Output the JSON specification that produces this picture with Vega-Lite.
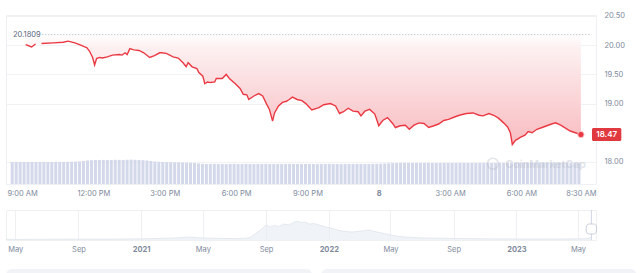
{
"$schema":"https://vega.github.io/schema/vega-lite/v6.json",
"background":"white",
"padding":{"left":4,"top":11,"right":0,"bottom":0},
"spacing":12,
"config":{"font":"Inter","view":{"stroke":"#eef0f3"}},
"datasets":{
"price":[
{"t":"2023-06-07T09:09","p":20.01,"s":1},{"t":"2023-06-07T09:24","p":19.97,"s":1},{"t":"2023-06-07T09:34","p":20.02,"s":1},
{"t":"2023-06-07T09:49","p":20.03,"s":2},{"t":"2023-06-07T10:19","p":20.04,"s":2},{"t":"2023-06-07T10:44","p":20.05,"s":2},{"t":"2023-06-07T10:56","p":20.07,"s":2},{"t":"2023-06-07T11:13","p":20.04,"s":2},{"t":"2023-06-07T11:28","p":20.0,"s":2},{"t":"2023-06-07T11:38","p":19.97,"s":2},{"t":"2023-06-07T11:43","p":19.96,"s":2},{"t":"2023-06-07T11:50","p":19.9,"s":2},{"t":"2023-06-07T11:58","p":19.79,"s":2},{"t":"2023-06-07T12:03","p":19.66,"s":2},{"t":"2023-06-07T12:08","p":19.77,"s":2},{"t":"2023-06-07T12:15","p":19.79,"s":2},{"t":"2023-06-07T12:23","p":19.78,"s":2},{"t":"2023-06-07T12:35","p":19.8,"s":2},{"t":"2023-06-07T12:48","p":19.83,"s":2},{"t":"2023-06-07T13:05","p":19.84,"s":2},{"t":"2023-06-07T13:12","p":19.83,"s":2},{"t":"2023-06-07T13:20","p":19.87,"s":2},{"t":"2023-06-07T13:25","p":19.84,"s":2},{"t":"2023-06-07T13:32","p":19.94,"s":2},{"t":"2023-06-07T13:42","p":19.92,"s":2},{"t":"2023-06-07T13:55","p":19.91,"s":2},{"t":"2023-06-07T14:07","p":19.87,"s":2},{"t":"2023-06-07T14:22","p":19.79,"s":2},{"t":"2023-06-07T14:34","p":19.82,"s":2},{"t":"2023-06-07T14:47","p":19.87,"s":2},{"t":"2023-06-07T14:52","p":19.87,"s":2},{"t":"2023-06-07T15:04","p":19.86,"s":2},{"t":"2023-06-07T15:21","p":19.8,"s":2},{"t":"2023-06-07T15:34","p":19.78,"s":2},{"t":"2023-06-07T15:46","p":19.7,"s":2},{"t":"2023-06-07T15:54","p":19.63,"s":2},{"t":"2023-06-07T15:59","p":19.7,"s":2},{"t":"2023-06-07T16:09","p":19.63,"s":2},{"t":"2023-06-07T16:21","p":19.6,"s":2},{"t":"2023-06-07T16:26","p":19.53,"s":2},{"t":"2023-06-07T16:36","p":19.47,"s":2},{"t":"2023-06-07T16:41","p":19.34,"s":2},{"t":"2023-06-07T16:48","p":19.37,"s":2},{"t":"2023-06-07T16:56","p":19.36,"s":2},{"t":"2023-06-07T17:06","p":19.37,"s":2},{"t":"2023-06-07T17:10","p":19.43,"s":2},{"t":"2023-06-07T17:25","p":19.43,"s":2},{"t":"2023-06-07T17:35","p":19.5,"s":2},{"t":"2023-06-07T17:43","p":19.43,"s":2},{"t":"2023-06-07T17:58","p":19.34,"s":2},{"t":"2023-06-07T18:10","p":19.26,"s":2},{"t":"2023-06-07T18:18","p":19.16,"s":2},{"t":"2023-06-07T18:27","p":19.15,"s":2},{"t":"2023-06-07T18:32","p":19.07,"s":2},{"t":"2023-06-07T18:45","p":19.13,"s":2},{"t":"2023-06-07T18:57","p":19.17,"s":2},{"t":"2023-06-07T19:07","p":19.13,"s":2},{"t":"2023-06-07T19:17","p":18.99,"s":2},{"t":"2023-06-07T19:24","p":18.9,"s":2},{"t":"2023-06-07T19:32","p":18.7,"s":2},{"t":"2023-06-07T19:37","p":18.84,"s":2},{"t":"2023-06-07T19:47","p":18.96,"s":2},{"t":"2023-06-07T19:57","p":19.02,"s":2},{"t":"2023-06-07T20:07","p":19.04,"s":2},{"t":"2023-06-07T20:14","p":19.07,"s":2},{"t":"2023-06-07T20:22","p":19.11,"s":2},{"t":"2023-06-07T20:34","p":19.07,"s":2},{"t":"2023-06-07T20:46","p":19.05,"s":2},{"t":"2023-06-07T20:56","p":19.0,"s":2},{"t":"2023-06-07T21:11","p":18.89,"s":2},{"t":"2023-06-07T21:29","p":18.93,"s":2},{"t":"2023-06-07T21:41","p":18.98,"s":2},{"t":"2023-06-07T21:58","p":19.0,"s":2},{"t":"2023-06-07T22:11","p":18.96,"s":2},{"t":"2023-06-07T22:21","p":18.83,"s":2},{"t":"2023-06-07T22:31","p":18.86,"s":2},{"t":"2023-06-07T22:43","p":18.92,"s":2},{"t":"2023-06-07T22:55","p":18.87,"s":2},{"t":"2023-06-07T23:08","p":18.86,"s":2},{"t":"2023-06-07T23:15","p":18.79,"s":2},{"t":"2023-06-07T23:25","p":18.87,"s":2},{"t":"2023-06-07T23:37","p":18.9,"s":2},{"t":"2023-06-07T23:50","p":18.82,"s":2},
{"t":"2023-06-08T00:00","p":18.62,"s":2},{"t":"2023-06-08T00:10","p":18.71,"s":2},{"t":"2023-06-08T00:22","p":18.76,"s":2},{"t":"2023-06-08T00:35","p":18.66,"s":2},{"t":"2023-06-08T00:42","p":18.59,"s":2},{"t":"2023-06-08T00:54","p":18.62,"s":2},{"t":"2023-06-08T01:07","p":18.63,"s":2},{"t":"2023-06-08T01:17","p":18.56,"s":2},{"t":"2023-06-08T01:29","p":18.63,"s":2},{"t":"2023-06-08T01:42","p":18.67,"s":2},{"t":"2023-06-08T01:54","p":18.66,"s":2},{"t":"2023-06-08T02:06","p":18.59,"s":2},{"t":"2023-06-08T02:19","p":18.62,"s":2},{"t":"2023-06-08T02:31","p":18.65,"s":2},{"t":"2023-06-08T02:44","p":18.71,"s":2},{"t":"2023-06-08T02:56","p":18.73,"s":2},{"t":"2023-06-08T03:11","p":18.77,"s":2},{"t":"2023-06-08T03:23","p":18.8,"s":2},{"t":"2023-06-08T03:41","p":18.83,"s":2},{"t":"2023-06-08T03:58","p":18.84,"s":2},{"t":"2023-06-08T04:13","p":18.8,"s":2},{"t":"2023-06-08T04:23","p":18.79,"s":2},{"t":"2023-06-08T04:38","p":18.83,"s":2},{"t":"2023-06-08T04:50","p":18.8,"s":2},{"t":"2023-06-08T05:02","p":18.75,"s":2},{"t":"2023-06-08T05:15","p":18.67,"s":2},{"t":"2023-06-08T05:25","p":18.6,"s":2},{"t":"2023-06-08T05:32","p":18.5,"s":2},{"t":"2023-06-08T05:37","p":18.3,"s":2},{"t":"2023-06-08T05:45","p":18.37,"s":2},{"t":"2023-06-08T05:57","p":18.42,"s":2},{"t":"2023-06-08T06:09","p":18.46,"s":2},{"t":"2023-06-08T06:17","p":18.52,"s":2},{"t":"2023-06-08T06:27","p":18.5,"s":2},{"t":"2023-06-08T06:39","p":18.56,"s":2},{"t":"2023-06-08T06:52","p":18.59,"s":2},{"t":"2023-06-08T07:04","p":18.62,"s":2},{"t":"2023-06-08T07:16","p":18.65,"s":2},{"t":"2023-06-08T07:26","p":18.67,"s":2},{"t":"2023-06-08T07:39","p":18.63,"s":2},{"t":"2023-06-08T07:51","p":18.58,"s":2},{"t":"2023-06-08T08:03","p":18.53,"s":2},{"t":"2023-06-08T08:16","p":18.5,"s":2},{"t":"2023-06-08T08:30","p":18.47,"s":2}
],
"vol":[
{"t":"2023-06-07T08:35","v":2.2},{"t":"2023-06-07T08:45","v":2.21},{"t":"2023-06-07T08:55","v":2.2},{"t":"2023-06-07T09:05","v":2.19},{"t":"2023-06-07T09:15","v":2.2},{"t":"2023-06-07T09:25","v":2.21},{"t":"2023-06-07T09:35","v":2.2},{"t":"2023-06-07T09:45","v":2.2},{"t":"2023-06-07T09:55","v":2.21},{"t":"2023-06-07T10:05","v":2.2},{"t":"2023-06-07T10:15","v":2.2},{"t":"2023-06-07T10:25","v":2.22},{"t":"2023-06-07T10:35","v":2.21},{"t":"2023-06-07T10:45","v":2.2},{"t":"2023-06-07T10:55","v":2.22},{"t":"2023-06-07T11:05","v":2.23},{"t":"2023-06-07T11:15","v":2.24},{"t":"2023-06-07T11:25","v":2.26},{"t":"2023-06-07T11:35","v":2.3},{"t":"2023-06-07T11:45","v":2.35},{"t":"2023-06-07T11:55","v":2.38},{"t":"2023-06-07T12:05","v":2.4},{"t":"2023-06-07T12:15","v":2.4},{"t":"2023-06-07T12:25","v":2.41},{"t":"2023-06-07T12:35","v":2.4},{"t":"2023-06-07T12:45","v":2.4},{"t":"2023-06-07T12:55","v":2.42},{"t":"2023-06-07T13:05","v":2.41},{"t":"2023-06-07T13:15","v":2.4},{"t":"2023-06-07T13:25","v":2.42},{"t":"2023-06-07T13:35","v":2.43},{"t":"2023-06-07T13:45","v":2.42},{"t":"2023-06-07T13:55","v":2.4},{"t":"2023-06-07T14:05","v":2.38},{"t":"2023-06-07T14:15","v":2.35},{"t":"2023-06-07T14:25","v":2.3},{"t":"2023-06-07T14:35","v":2.25},{"t":"2023-06-07T14:45","v":2.22},{"t":"2023-06-07T14:55","v":2.2},{"t":"2023-06-07T15:05","v":2.18},{"t":"2023-06-07T15:15","v":2.17},{"t":"2023-06-07T15:25","v":2.16},{"t":"2023-06-07T15:35","v":2.15},{"t":"2023-06-07T15:45","v":2.15},{"t":"2023-06-07T15:55","v":2.14},{"t":"2023-06-07T16:05","v":2.12},{"t":"2023-06-07T16:15","v":2.1},{"t":"2023-06-07T16:25","v":2.05},{"t":"2023-06-07T16:35","v":2.02},{"t":"2023-06-07T16:45","v":2.0},{"t":"2023-06-07T16:55","v":2.0},{"t":"2023-06-07T17:05","v":2.01},{"t":"2023-06-07T17:15","v":2.0},{"t":"2023-06-07T17:25","v":2.0},{"t":"2023-06-07T17:35","v":1.99},{"t":"2023-06-07T17:45","v":2.0},{"t":"2023-06-07T17:55","v":2.01},{"t":"2023-06-07T18:05","v":2.0},{"t":"2023-06-07T18:15","v":2.0},{"t":"2023-06-07T18:25","v":2.01},{"t":"2023-06-07T18:35","v":2.0},{"t":"2023-06-07T18:45","v":1.99},{"t":"2023-06-07T18:55","v":2.0},{"t":"2023-06-07T19:05","v":2.0},{"t":"2023-06-07T19:15","v":2.01},{"t":"2023-06-07T19:25","v":2.0},{"t":"2023-06-07T19:35","v":2.0},{"t":"2023-06-07T19:45","v":1.99},{"t":"2023-06-07T19:55","v":2.0},{"t":"2023-06-07T20:05","v":2.0},{"t":"2023-06-07T20:15","v":2.01},{"t":"2023-06-07T20:25","v":2.0},{"t":"2023-06-07T20:35","v":2.0},{"t":"2023-06-07T20:45","v":1.99},{"t":"2023-06-07T20:55","v":2.0},{"t":"2023-06-07T21:05","v":2.0},{"t":"2023-06-07T21:15","v":2.0},{"t":"2023-06-07T21:25","v":1.99},{"t":"2023-06-07T21:35","v":2.0},{"t":"2023-06-07T21:45","v":2.0},{"t":"2023-06-07T21:55","v":2.01},{"t":"2023-06-07T22:05","v":2.0},{"t":"2023-06-07T22:15","v":2.0},{"t":"2023-06-07T22:25","v":1.99},{"t":"2023-06-07T22:35","v":2.0},{"t":"2023-06-07T22:45","v":2.0},{"t":"2023-06-07T22:55","v":2.0},{"t":"2023-06-07T23:05","v":2.01},{"t":"2023-06-07T23:15","v":2.0},{"t":"2023-06-07T23:25","v":2.0},{"t":"2023-06-07T23:35","v":2.0},{"t":"2023-06-07T23:45","v":2.01},{"t":"2023-06-07T23:55","v":2.02},
{"t":"2023-06-08T00:05","v":2.03},{"t":"2023-06-08T00:15","v":2.05},{"t":"2023-06-08T00:25","v":2.07},{"t":"2023-06-08T00:35","v":2.08},{"t":"2023-06-08T00:45","v":2.1},{"t":"2023-06-08T00:55","v":2.1},{"t":"2023-06-08T01:05","v":2.11},{"t":"2023-06-08T01:15","v":2.1},{"t":"2023-06-08T01:25","v":2.1},{"t":"2023-06-08T01:35","v":2.11},{"t":"2023-06-08T01:45","v":2.1},{"t":"2023-06-08T01:55","v":2.1},{"t":"2023-06-08T02:05","v":2.11},{"t":"2023-06-08T02:15","v":2.1},{"t":"2023-06-08T02:25","v":2.1},{"t":"2023-06-08T02:35","v":2.1},{"t":"2023-06-08T02:45","v":2.11},{"t":"2023-06-08T02:55","v":2.1},{"t":"2023-06-08T03:05","v":2.1},{"t":"2023-06-08T03:15","v":2.1},{"t":"2023-06-08T03:25","v":2.11},{"t":"2023-06-08T03:35","v":2.1},{"t":"2023-06-08T03:45","v":2.1},{"t":"2023-06-08T03:55","v":2.1},{"t":"2023-06-08T04:05","v":2.1},{"t":"2023-06-08T04:15","v":2.11},{"t":"2023-06-08T04:25","v":2.1},{"t":"2023-06-08T04:35","v":2.1},{"t":"2023-06-08T04:45","v":2.1},{"t":"2023-06-08T04:55","v":2.1},{"t":"2023-06-08T05:05","v":2.11},{"t":"2023-06-08T05:15","v":2.1},{"t":"2023-06-08T05:25","v":2.1},{"t":"2023-06-08T05:35","v":2.1},{"t":"2023-06-08T05:45","v":2.1},{"t":"2023-06-08T05:55","v":2.11},{"t":"2023-06-08T06:05","v":2.1},{"t":"2023-06-08T06:15","v":2.1},{"t":"2023-06-08T06:25","v":2.1},{"t":"2023-06-08T06:35","v":2.1},{"t":"2023-06-08T06:45","v":2.11},{"t":"2023-06-08T06:55","v":2.1},{"t":"2023-06-08T07:05","v":2.1},{"t":"2023-06-08T07:15","v":2.1},{"t":"2023-06-08T07:25","v":2.1},{"t":"2023-06-08T07:35","v":2.1},{"t":"2023-06-08T07:45","v":2.11},{"t":"2023-06-08T07:55","v":2.1},{"t":"2023-06-08T08:05","v":2.1},{"t":"2023-06-08T08:15","v":2.1},{"t":"2023-06-08T08:25","v":2.1}
],
"nav":[
{"d":"2020-04-13","v":0.6},{"d":"2020-06-01","v":0.7},{"d":"2020-08-01","v":0.8},{"d":"2020-10-01","v":0.9},{"d":"2020-12-01","v":1.0},{"d":"2021-01-15","v":1.3},{"d":"2021-02-20","v":1.8},{"d":"2021-03-16","v":2.2},{"d":"2021-04-04","v":3.0},{"d":"2021-04-24","v":2.2},{"d":"2021-05-20","v":1.8},{"d":"2021-06-20","v":1.5},{"d":"2021-07-20","v":1.6},{"d":"2021-08-01","v":2.5},{"d":"2021-08-09","v":5.5},{"d":"2021-08-18","v":9},{"d":"2021-08-26","v":12},{"d":"2021-09-01","v":15},{"d":"2021-09-09","v":13},{"d":"2021-09-17","v":14.5},{"d":"2021-09-26","v":13.5},{"d":"2021-10-06","v":16},{"d":"2021-10-16","v":15},{"d":"2021-10-24","v":17.5},{"d":"2021-11-01","v":19},{"d":"2021-11-08","v":17.5},{"d":"2021-11-16","v":18},{"d":"2021-11-24","v":16},{"d":"2021-12-03","v":16.5},{"d":"2021-12-13","v":15},{"d":"2021-12-27","v":13},{"d":"2022-01-09","v":11.5},{"d":"2022-01-21","v":9.5},{"d":"2022-02-04","v":8.5},{"d":"2022-02-15","v":8},{"d":"2022-03-05","v":9},{"d":"2022-03-20","v":10},{"d":"2022-04-05","v":8},{"d":"2022-04-23","v":6},{"d":"2022-05-12","v":4},{"d":"2022-05-31","v":3},{"d":"2022-06-25","v":2.2},{"d":"2022-08-23","v":1.6},{"d":"2022-11-28","v":1.1},{"d":"2023-03-24","v":1.0},{"d":"2023-05-18","v":1.3},{"d":"2023-05-26","v":2.5}
],
"cards":[{"a":"2020-04-13","b":"2021-11-30","lo":-29,"hi":-50},{"a":"2021-12-17","b":"2023-08-23","lo":-29,"hi":-50}]
},
"vconcat":[
{
"width":590,"height":169,
"resolve":{"scale":{"y":"independent"}},
"layer":[
 {"data":{"name":"vol"},"mark":{"type":"bar","size":3,"color":"#d3d8ea"},
  "encoding":{"x":{"field":"t","type":"temporal","title":null,
     "scale":{"domain":[{"year":2023,"month":6,"date":7,"hours":8,"minutes":32},{"year":2023,"month":6,"date":8,"hours":8,"minutes":55,"seconds":30}]},
     "axis":{"values":[{"year":2023,"month":6,"date":7,"hours":9},{"year":2023,"month":6,"date":7,"hours":12},{"year":2023,"month":6,"date":7,"hours":15},{"year":2023,"month":6,"date":7,"hours":18},{"year":2023,"month":6,"date":7,"hours":21},{"year":2023,"month":6,"date":8,"hours":0},{"year":2023,"month":6,"date":8,"hours":3},{"year":2023,"month":6,"date":8,"hours":6},{"year":2023,"month":6,"date":8,"hours":8,"minutes":30}],
       "labelExpr":"hours(datum.value)==0 && minutes(datum.value)==0 ? timeFormat(datum.value,'%-d') : timeFormat(datum.value,'%-I:%M %p')",
       "labelFontWeight":{"condition":{"test":"hours(datum.value)==0","value":"bold"},"value":"normal"},
       "grid":false,"domain":false,"ticks":false,"tickSize":0,"labelPadding":5,"labelFontSize":7.5,"labelColor":"#808a9d","labelFlush":false,"labelOverlap":false}},
   "y":{"field":"v","type":"quantitative","scale":{"domain":[0,16.9]},"axis":null}}},
 {"data":{"name":"price"},
  "mark":{"type":"area","color":{"gradient":"linear","x1":0,"y1":0,"x2":0,"y2":1,"stops":[{"offset":0,"color":"#ffffff"},{"offset":0.12,"color":"#fdf0f1"},{"offset":1,"color":"#f8bcc0"}]}},
  "encoding":{
   "x":{"field":"t","type":"temporal"},
   "y":{"field":"p","type":"quantitative","title":null,"scale":{"domain":[17.623,20.517],"nice":false,"zero":false},
     "axis":{"orient":"right","values":[18,19,19.5,20,20.5],"format":".2f","domain":false,"ticks":false,"tickSize":0,"labelPadding":8,"labelFontSize":7.5,"labelColor":"#808a9d","grid":true,"gridColor":"#f1f2f5"}},
   "y2":{"datum":20.1809}}},
 {"data":{"name":"price"},"mark":{"type":"line","color":"#ea3943","strokeWidth":1.4},
  "encoding":{"x":{"field":"t","type":"temporal"},"y":{"field":"p","type":"quantitative","scale":{"domain":[17.623,20.517],"nice":false,"zero":false},"axis":null},"detail":{"field":"s","type":"nominal"}}},
 {"data":{"values":[{"p":20.1809}]},"mark":{"type":"rule","color":"#aab0bf","strokeDash":[1,2],"strokeWidth":1},
  "encoding":{"x":{"datum":{"year":2023,"month":6,"date":7,"hours":9,"minutes":51},"type":"temporal"},"x2":{"datum":{"year":2023,"month":6,"date":8,"hours":8,"minutes":55}},"y":{"field":"p","type":"quantitative","scale":{"domain":[17.623,20.517],"nice":false,"zero":false},"axis":null}}},
 {"data":{"values":[{"p":20.1809,"label":"20.1809"}]},"mark":{"type":"text","align":"left","baseline":"middle","fontSize":7.5,"color":"#58667e"},
  "encoding":{"x":{"datum":{"year":2023,"month":6,"date":7,"hours":8,"minutes":37},"type":"temporal"},"y":{"field":"p","type":"quantitative","scale":{"domain":[17.623,20.517],"nice":false,"zero":false},"axis":null},"text":{"field":"label"}}},
 {"data":{"values":[{"p":17.955,"label":"CoinMarketCap"}]},"mark":{"type":"text","align":"left","baseline":"middle","fontSize":10.5,"fontWeight":"bold","color":"#b9bfcc","opacity":0.4},
  "encoding":{"x":{"datum":{"year":2023,"month":6,"date":8,"hours":5,"minutes":20},"type":"temporal"},"y":{"field":"p","type":"quantitative","scale":{"domain":[17.623,20.517],"nice":false,"zero":false},"axis":null},"text":{"field":"label"}}},
 {"data":{"values":[{"p":17.97}]},"mark":{"type":"point","shape":"circle","filled":false,"size":120,"strokeWidth":1.5,"color":"#b9bfcc","opacity":0.4},
  "encoding":{"x":{"datum":{"year":2023,"month":6,"date":8,"hours":4,"minutes":48},"type":"temporal"},"y":{"field":"p","type":"quantitative","scale":{"domain":[17.623,20.517],"nice":false,"zero":false},"axis":null}}},
 {"data":{"values":[{"t":"2023-06-08T08:30","p":18.47}]},"mark":{"type":"point","filled":true,"size":40,"color":"#ea3943","stroke":"#f9c9cb","strokeWidth":1,"opacity":1},
  "encoding":{"x":{"field":"t","type":"temporal"},"y":{"field":"p","type":"quantitative","scale":{"domain":[17.623,20.517],"nice":false,"zero":false},"axis":null}}},
 {"data":{"values":[{"hi":18.582,"lo":18.36}]},"mark":{"type":"rect","color":"#e03a40","cornerRadius":1.5},
  "encoding":{"x":{"datum":{"year":2023,"month":6,"date":8,"hours":8,"minutes":58},"type":"temporal"},"x2":{"datum":{"year":2023,"month":6,"date":8,"hours":10,"minutes":12}},"y":{"field":"hi","type":"quantitative","scale":{"domain":[17.623,20.517],"nice":false,"zero":false},"axis":null},"y2":{"field":"lo"}}},
 {"data":{"values":[{"p":18.47,"label":"18.47"}]},"mark":{"type":"text","align":"center","baseline":"middle","fontSize":8,"fontWeight":600,"color":"#ffffff"},
  "encoding":{"x":{"datum":{"year":2023,"month":6,"date":8,"hours":9,"minutes":35},"type":"temporal"},"y":{"field":"p","type":"quantitative","scale":{"domain":[17.623,20.517],"nice":false,"zero":false},"axis":null},"text":{"field":"label"}}}
]
},
{
"width":590,"height":30,
"layer":[
 {"data":{"name":"cards"},"mark":{"type":"rect","color":"#f1f3f7","cornerRadius":6},
  "encoding":{"x":{"field":"a","type":"temporal","title":null},"x2":{"field":"b"},"y":{"field":"lo","type":"quantitative","title":null},"y2":{"field":"hi"}}},
 {"data":{"name":"nav"},"mark":{"type":"area","color":"#eaeef4","line":{"color":"#dde2ea","strokeWidth":0.7}},
  "encoding":{
   "x":{"field":"d","type":"temporal","title":null,"scale":{"domain":[{"year":2020,"month":4,"date":13},{"year":2023,"month":6,"date":5}]},
     "axis":{"values":[{"year":2020,"month":5,"date":1},{"year":2020,"month":9,"date":1},{"year":2021,"month":1,"date":1},{"year":2021,"month":5,"date":1},{"year":2021,"month":9,"date":1},{"year":2022,"month":1,"date":1},{"year":2022,"month":5,"date":1},{"year":2022,"month":9,"date":1},{"year":2023,"month":1,"date":1},{"year":2023,"month":5,"date":1}],
       "labelExpr":"month(datum.value)==0 ? timeFormat(datum.value,'%Y') : timeFormat(datum.value,'%b')",
       "labelFontWeight":{"condition":{"test":"month(datum.value)==0","value":"bold"},"value":"normal"},
       "labelFontSize":7.5,"labelPadding":5,"labelColor":"#808a9d","ticks":false,"tickSize":0,"domain":false,"grid":true,"gridColor":"#eef0f4","labelFlush":false}},
   "y":{"field":"v","type":"quantitative","scale":{"domain":[0,30]},"axis":null}}},
 {"data":{"values":[{"lo":0,"hi":30}]},"mark":{"type":"rule","color":"#cfd5e0"},
  "encoding":{"x":{"datum":{"year":2023,"month":5,"date":27},"type":"temporal"},"y":{"field":"lo","type":"quantitative"},"y2":{"field":"hi"}}},
 {"data":{"values":[{"lo":6,"hi":16}]},"mark":{"type":"rect","fill":"#ffffff","stroke":"#c9d0dc","strokeWidth":1,"cornerRadius":3},
  "encoding":{"x":{"datum":{"year":2023,"month":5,"date":17},"type":"temporal"},"x2":{"datum":{"year":2023,"month":6,"date":6}},"y":{"field":"lo","type":"quantitative"},"y2":{"field":"hi"}}}
]
}
]
}
